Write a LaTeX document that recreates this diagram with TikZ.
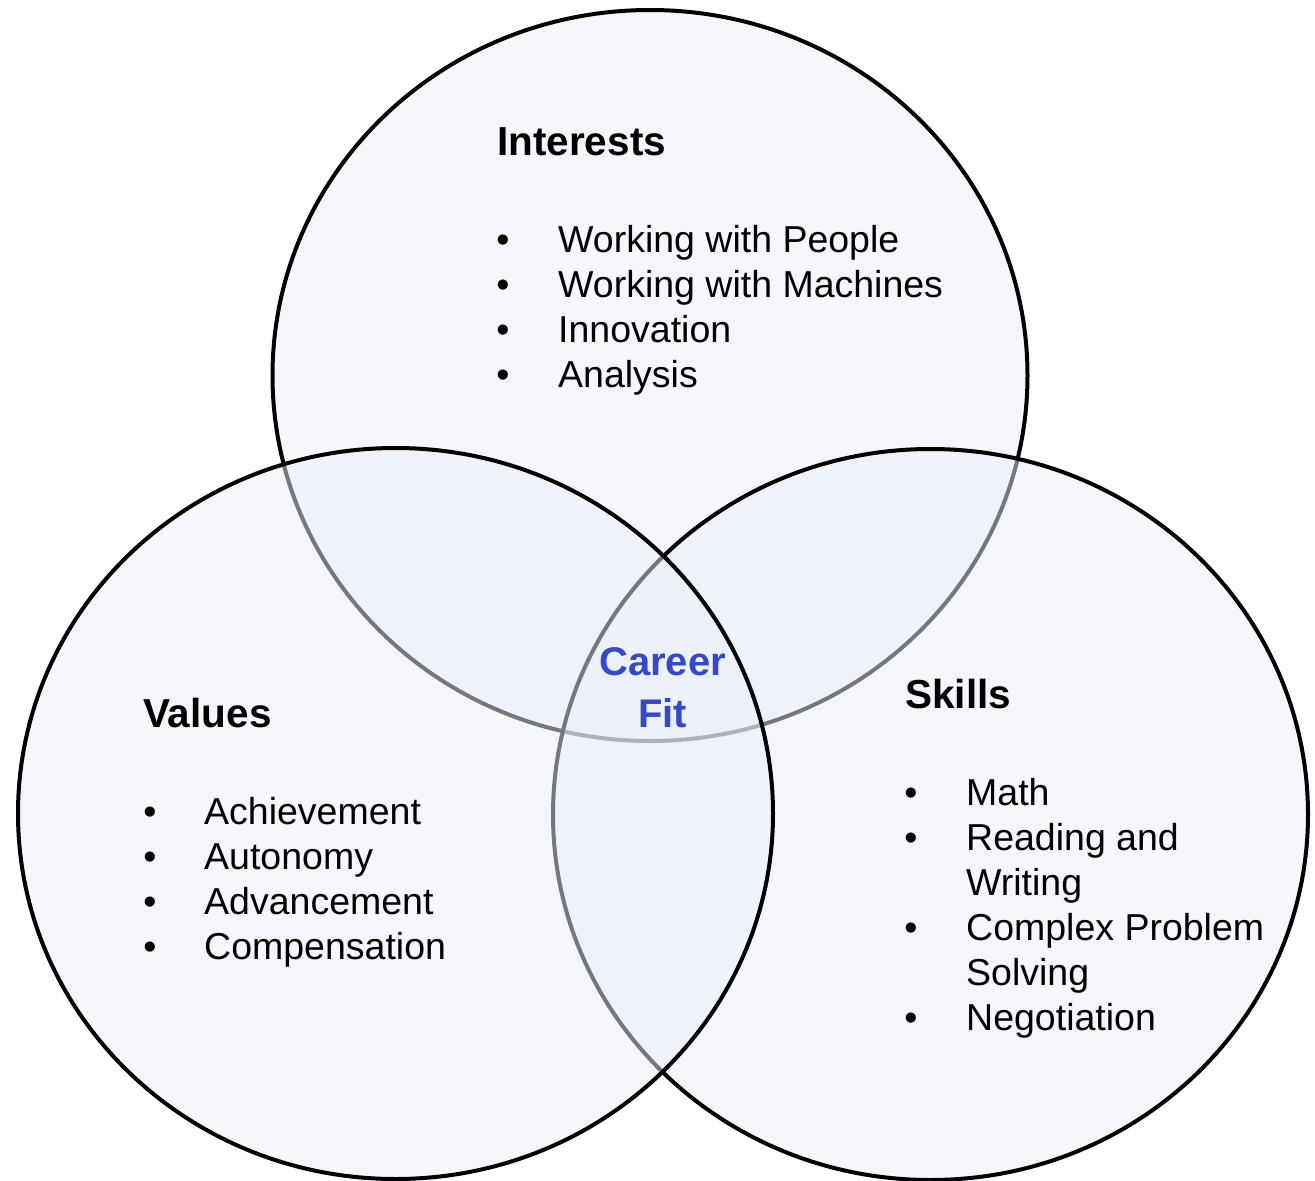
\documentclass[tikz,border=0pt]{standalone}
\usepackage{fontspec}
\setmainfont{Liberation Sans}
\definecolor{circfill}{RGB}{233,238,248}
\definecolor{fitblue}{RGB}{52,72,200}
\tikzset{
  venn/.style={draw=black, line width=4pt, fill=circfill, fill opacity=0.5},
  title/.style={anchor=base west, inner sep=0pt, font=\fontsize{40.5}{48}\selectfont\bfseries},
  item/.style={anchor=base west, inner sep=0pt, font=\fontsize{37.5}{45}\selectfont},
  bul/.style={anchor=base, inner sep=0pt, font=\fontsize{37.5}{45}\selectfont},
  fit/.style={anchor=base, inner sep=0pt, text=fitblue, font=\fontsize{40}{48}\selectfont\bfseries}
}
\begin{document}
\begin{tikzpicture}[x=1pt,y=-1pt]
\useasboundingbox (0,0) rectangle (1315,1181);
\coordinate (cI) at (650,375.5);
\coordinate (cS) at (930.5,814.5);
\coordinate (cV) at (395.5,813.5);
% circles in stacking order: Interests, Skills, Values
\path[venn] (cI) ellipse [x radius=377.5pt, y radius=365.5pt];
\path[venn] (cS) ellipse [x radius=377.5pt, y radius=365.5pt];
\path[venn] (cV) ellipse [x radius=377.5pt, y radius=365.5pt];

% Interests
\node[title] (tI) at (497,155) {Interests};
\node[bul] (bI1) at (503,252) {•};
\node[item] (iI1) at (558,252) {Working with People};
\node[bul] (bI2) at (503,297) {•};
\node[item] (iI2) at (558,297) {Working with Machines};
\node[bul] (bI3) at (503,342) {•};
\node[item] (iI3) at (558,342) {Innovation};
\node[bul] (bI4) at (503,387) {•};
\node[item] (iI4) at (558,387) {Analysis};

% Values
\node[title] (tV) at (143,727) {Values};
\node[bul] (bV1) at (150,824) {•};
\node[item] (iV1) at (204,824) {Achievement};
\node[bul] (bV2) at (150,869) {•};
\node[item] (iV2) at (204,869) {Autonomy};
\node[bul] (bV3) at (150,914) {•};
\node[item] (iV3) at (204,914) {Advancement};
\node[bul] (bV4) at (150,959) {•};
\node[item] (iV4) at (204,959) {Compensation};

% Skills
\node[title] (tS) at (905,708) {Skills};
\node[bul] (bS1) at (911,805) {•};
\node[item] (iS1) at (966,805) {Math};
\node[bul] (bS2) at (911,850) {•};
\node[item] (iS2) at (966,850) {Reading and};
\node[item] (iS2b) at (966,895) {Writing};
\node[bul] (bS3) at (911,940) {•};
\node[item] (iS3) at (966,940) {Complex Problem};
\node[item] (iS3b) at (966,985) {Solving};
\node[bul] (bS4) at (911,1030) {•};
\node[item] (iS4) at (966,1030) {Negotiation};

% Career Fit
\node[fit] (cf1) at (662.5,675) {Career};
\node[fit] (cf2) at (662.5,727) {Fit};
\end{tikzpicture}
\end{document}
